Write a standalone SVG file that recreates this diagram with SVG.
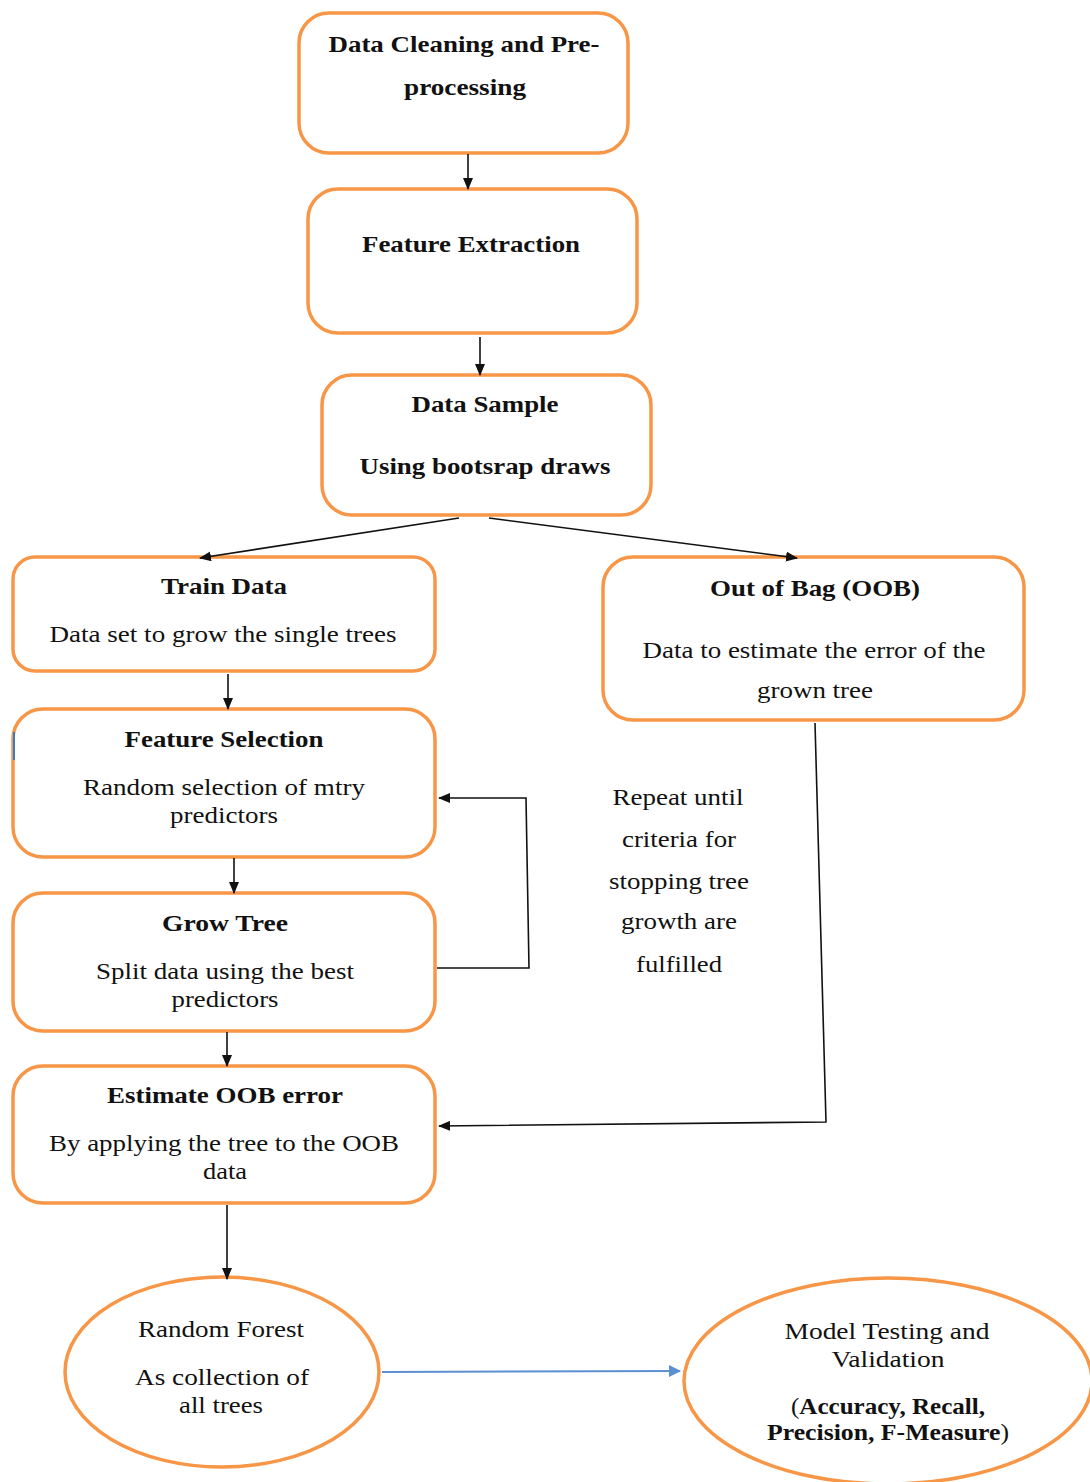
<svg xmlns="http://www.w3.org/2000/svg" width="1090" height="1482" viewBox="0 0 1090 1482">
<defs>
<style>
.box{fill:#fff;stroke:#F79646;stroke-width:3.5}
.t{font-family:"Liberation Serif","Times New Roman",serif;font-size:23px;fill:#111;text-anchor:middle}
.b{font-weight:bold;font-size:24px}
.c{fill:none;stroke:#111;stroke-width:1.6}
.blue{fill:none;stroke:#5B8FD0;stroke-width:2}
</style>
<marker id="ah" markerWidth="12" markerHeight="10" refX="11" refY="5" orient="auto" markerUnits="userSpaceOnUse"><path d="M0,0 L12,5 L0,10 z" fill="#111"/></marker>
<marker id="ahb" markerWidth="12" markerHeight="12" refX="11" refY="6" orient="auto" markerUnits="userSpaceOnUse"><path d="M0,0 L12,6 L0,12 z" fill="#5B8FD0"/></marker>
</defs>
<rect width="1090" height="1482" fill="#fff"/>
<g id="n1"><rect class="box" x="299" y="13" width="329" height="140" rx="30"/>
<text class="t b" x="464" y="52" textLength="271" lengthAdjust="spacingAndGlyphs">Data Cleaning and Pre-</text>
<text class="t b" x="465" y="95" textLength="122" lengthAdjust="spacingAndGlyphs">processing</text></g>
<g id="n2"><rect class="box" x="308" y="189" width="329" height="144" rx="30"/>
<text class="t b" x="471" y="252" textLength="218" lengthAdjust="spacingAndGlyphs">Feature Extraction</text></g>
<g id="n3"><rect class="box" x="322" y="375" width="329" height="140" rx="30"/>
<text class="t b" x="485" y="412" textLength="147" lengthAdjust="spacingAndGlyphs">Data Sample</text>
<text class="t b" x="485" y="474" textLength="251" lengthAdjust="spacingAndGlyphs">Using bootsrap draws</text></g>
<g id="n4"><rect class="box" x="13" y="557" width="422" height="114" rx="22"/>
<text class="t b" x="224" y="594" textLength="126" lengthAdjust="spacingAndGlyphs">Train Data</text>
<text class="t" x="223" y="642" textLength="347" lengthAdjust="spacingAndGlyphs">Data set to grow the single trees</text></g>
<g id="n5"><rect class="box" x="603" y="557" width="421" height="163" rx="30"/>
<text class="t b" x="815" y="596" textLength="210" lengthAdjust="spacingAndGlyphs">Out of Bag (OOB)</text>
<text class="t" x="814" y="658" textLength="343" lengthAdjust="spacingAndGlyphs">Data to estimate the error of the</text>
<text class="t" x="815" y="698" textLength="116" lengthAdjust="spacingAndGlyphs">grown tree</text></g>
<g id="n6"><rect class="box" x="13" y="709" width="422" height="148" rx="30"/>
<line x1="14" y1="732" x2="14" y2="760" stroke="#2F7FD0" stroke-width="2"/>
<text class="t b" x="224" y="747" textLength="199" lengthAdjust="spacingAndGlyphs">Feature Selection</text>
<text class="t" x="224" y="795" textLength="282" lengthAdjust="spacingAndGlyphs">Random selection of mtry</text>
<text class="t" x="224" y="823" textLength="108" lengthAdjust="spacingAndGlyphs">predictors</text></g>
<g id="n7"><rect class="box" x="13" y="893" width="422" height="138" rx="30"/>
<text class="t b" x="225" y="931" textLength="126" lengthAdjust="spacingAndGlyphs">Grow Tree</text>
<text class="t" x="225" y="979" textLength="258" lengthAdjust="spacingAndGlyphs">Split data using the best</text>
<text class="t" x="225" y="1007" textLength="107" lengthAdjust="spacingAndGlyphs">predictors</text></g>
<g id="n8"><rect class="box" x="13" y="1066" width="422" height="137" rx="30"/>
<text class="t b" x="225" y="1103" textLength="236" lengthAdjust="spacingAndGlyphs">Estimate OOB error</text>
<text class="t" x="224" y="1151" textLength="350" lengthAdjust="spacingAndGlyphs">By applying the tree to the OOB</text>
<text class="t" x="225" y="1179" textLength="44" lengthAdjust="spacingAndGlyphs">data</text></g>
<g id="n9"><text class="t" x="678" y="805" textLength="131" lengthAdjust="spacingAndGlyphs">Repeat until</text>
<text class="t" x="679" y="847" textLength="114" lengthAdjust="spacingAndGlyphs">criteria for</text>
<text class="t" x="679" y="889" textLength="140" lengthAdjust="spacingAndGlyphs">stopping tree</text>
<text class="t" x="679" y="929" textLength="116" lengthAdjust="spacingAndGlyphs">growth are</text>
<text class="t" x="679" y="972" textLength="86" lengthAdjust="spacingAndGlyphs">fulfilled</text></g>
<g id="n10"><ellipse class="box" cx="222" cy="1372" rx="157" ry="95"/>
<text class="t" x="221" y="1337" textLength="166" lengthAdjust="spacingAndGlyphs">Random Forest</text>
<text class="t" x="222" y="1385" textLength="174" lengthAdjust="spacingAndGlyphs">As collection of</text>
<text class="t" x="221" y="1413" textLength="84" lengthAdjust="spacingAndGlyphs">all trees</text></g>
<g id="n11"><ellipse class="box" cx="888" cy="1381" rx="204" ry="103"/>
<text class="t" x="887" y="1339" textLength="205" lengthAdjust="spacingAndGlyphs">Model Testing and</text>
<text class="t" x="888" y="1367" textLength="113" lengthAdjust="spacingAndGlyphs">Validation</text>
<text class="t" x="888" y="1414" textLength="194" lengthAdjust="spacingAndGlyphs">(<tspan font-weight="bold">Accuracy, Recall,</tspan></text>
<text class="t b" x="888" y="1440" font-size="22" textLength="242" lengthAdjust="spacingAndGlyphs">Precision, F-Measure<tspan font-weight="normal">)</tspan></text></g>
<g id="connectors">
<line class="c" x1="468" y1="154" x2="468" y2="189" marker-end="url(#ah)"/>
<line class="c" x1="480" y1="337" x2="480" y2="375" marker-end="url(#ah)"/>
<line class="c" x1="459" y1="518" x2="200" y2="558" marker-end="url(#ah)"/>
<line class="c" x1="489" y1="518" x2="797" y2="558" marker-end="url(#ah)"/>
<line class="c" x1="228" y1="674" x2="228" y2="709" marker-end="url(#ah)"/>
<line class="c" x1="234" y1="858" x2="234" y2="893" marker-end="url(#ah)"/>
<polyline class="c" points="437,968 529,968 526,798 439,798" marker-end="url(#ah)"/>
<line class="c" x1="227" y1="1032" x2="227" y2="1066" marker-end="url(#ah)"/>
<polyline class="c" points="815,723 826,1122 439,1126" marker-end="url(#ah)"/>
<line class="c" x1="227" y1="1205" x2="227" y2="1279" marker-end="url(#ah)"/>
<line class="blue" x1="382" y1="1372" x2="680" y2="1371" marker-end="url(#ahb)"/>
</g>
</svg>
